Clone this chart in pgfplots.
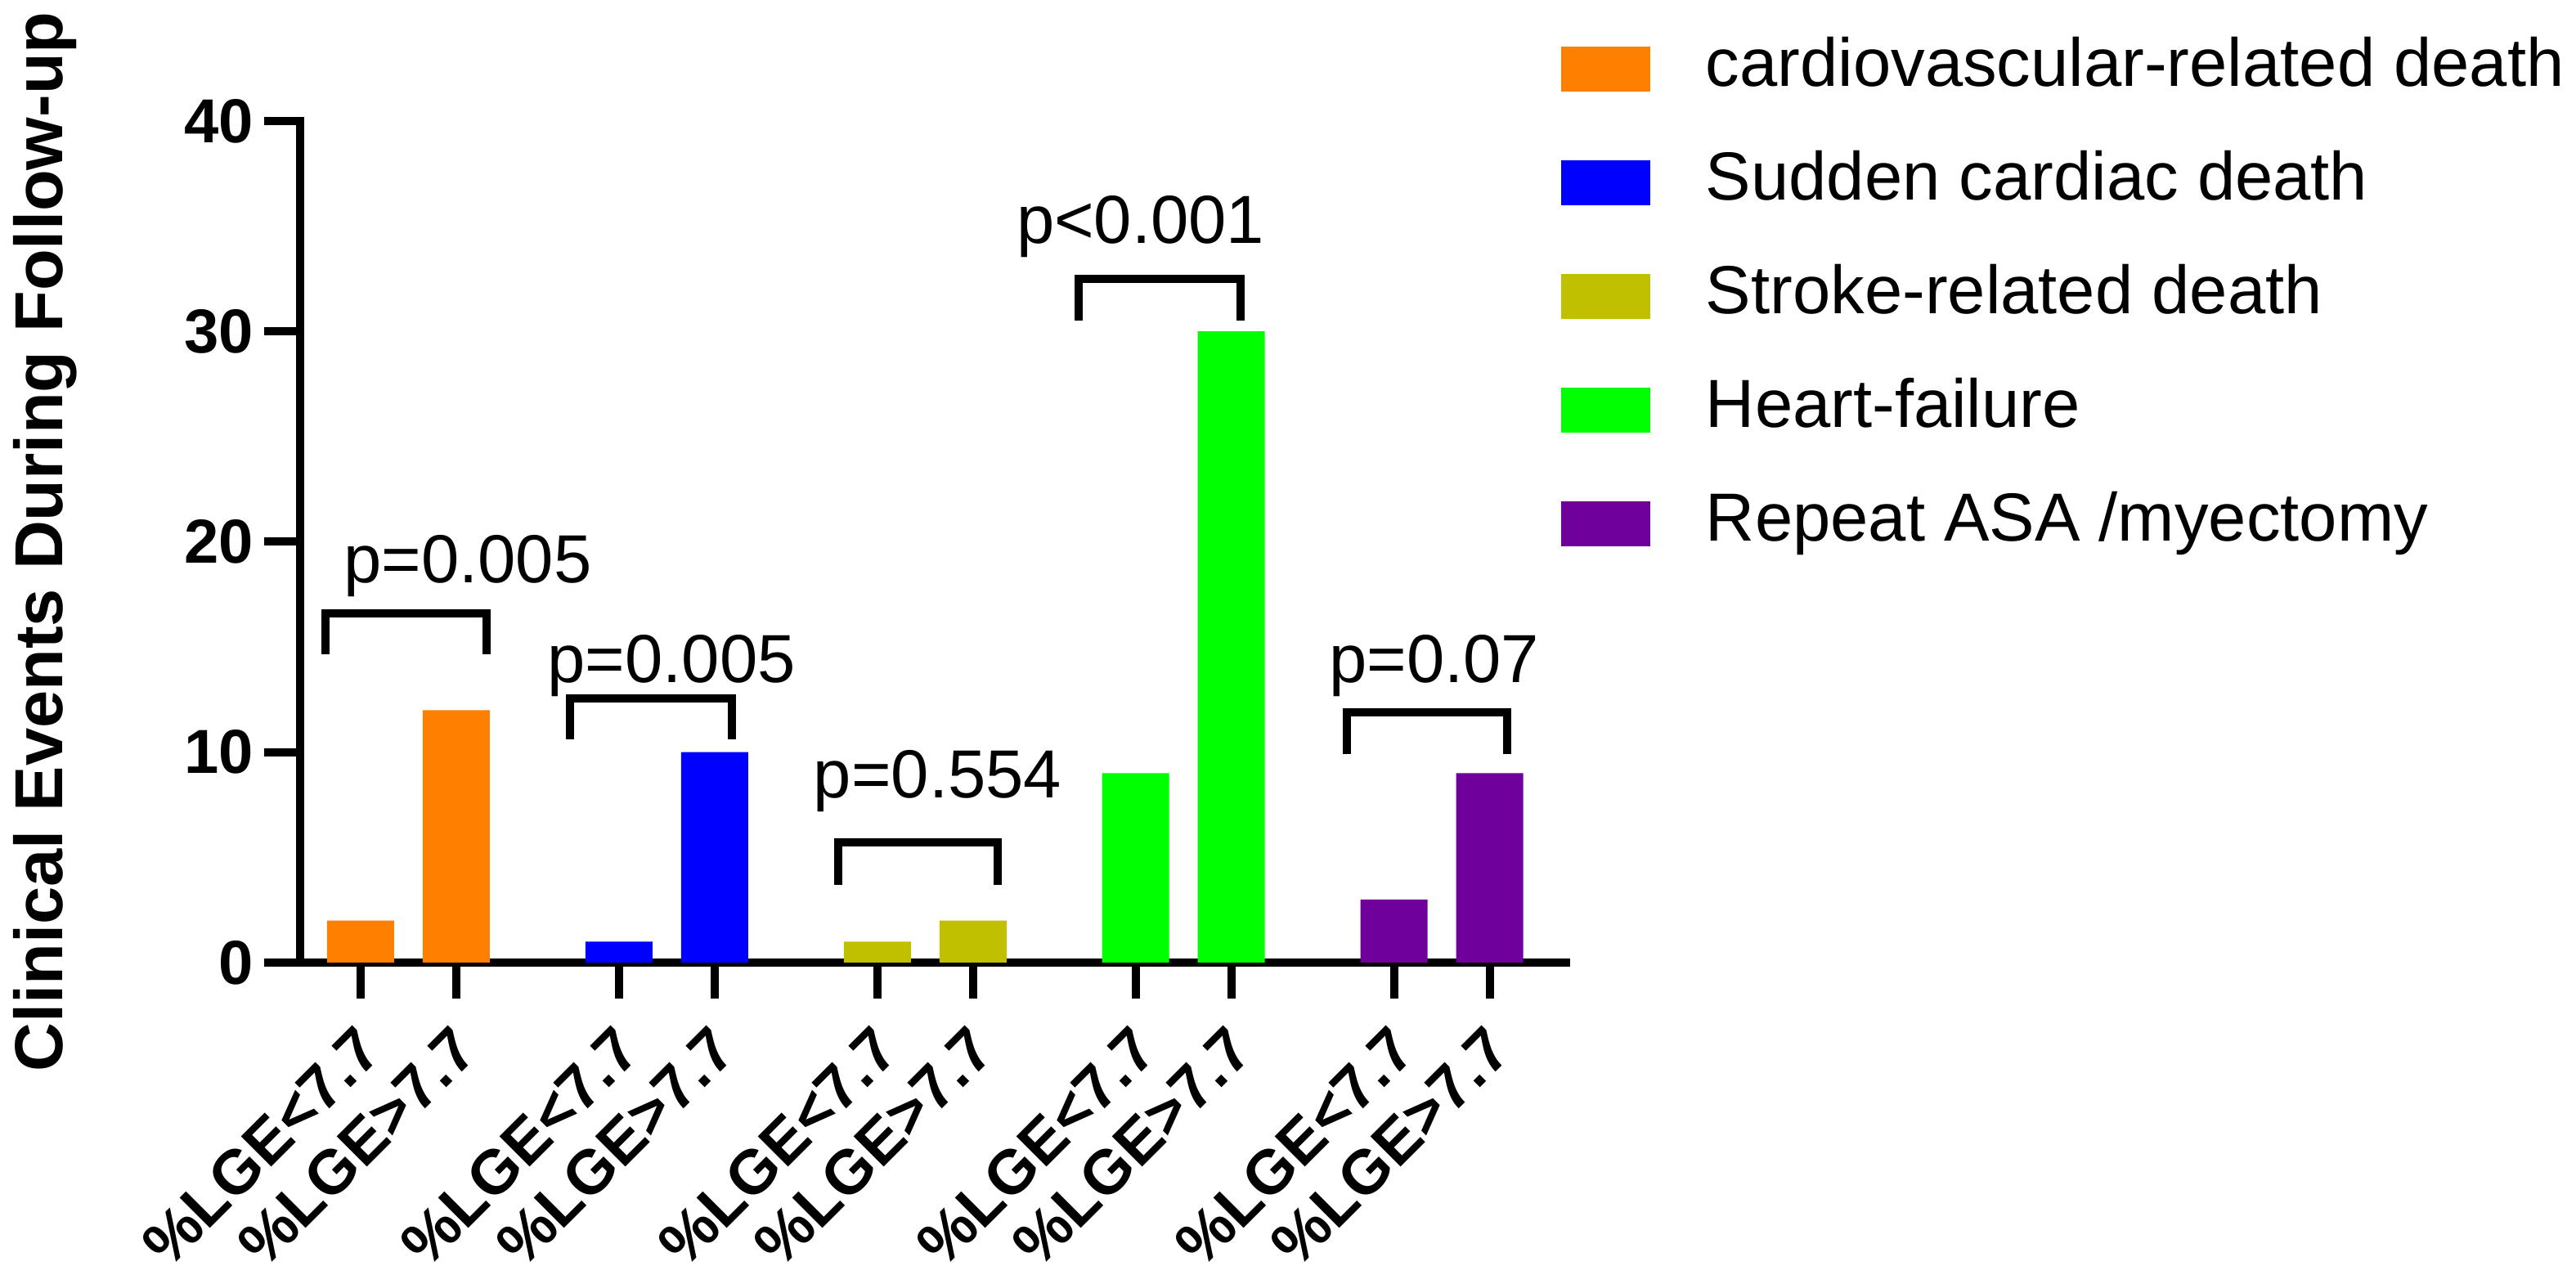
\documentclass[border=0pt]{standalone}
\usepackage{fontspec}
\setmainfont{Liberation Sans}
\usepackage{pgfplots}
\pgfplotsset{compat=1.18}
\definecolor{cOrange}{RGB}{255,128,0}
\definecolor{cBlue}{RGB}{0,0,255}
\definecolor{cOlive}{RGB}{192,192,0}
\definecolor{cGreen}{RGB}{0,255,0}
\definecolor{cPurple}{RGB}{112,0,155}
\pgfplotsset{
  mybar/.style={ybar, bar width=20.5pt, bar shift=0pt, draw=none,
    legend image code/.code={\fill[##1] (0pt,-6.875pt) rectangle (27.25pt,6.875pt);}},
  bracket/.style={black, line width=2.5pt, line join=miter, line cap=butt, forget plot, mark=none}
}
\newcommand{\pfont}{\fontsize{20.8}{24}\selectfont}
\begin{document}
\begin{tikzpicture}
\begin{axis}[
  at={(0pt,0pt)}, anchor=south west,
  scale only axis,
  width=387pt, height=257.25pt,
  xmin=-0.632, xmax=12.598,
  ymin=0, ymax=40,
  axis x line*=bottom, axis y line*=left,
  axis line style={line width=2.5pt, line cap=rect},
  ytick={0,10,20,30,40},
  xtick={0,1,2.7,3.7,5.4,6.4,8.1,9.1,10.8,11.8},
  xticklabels={\%LGE<7.7,\%LGE>7.7,\%LGE<7.7,\%LGE>7.7,\%LGE<7.7,\%LGE>7.7,\%LGE<7.7,\%LGE>7.7,\%LGE<7.7,\%LGE>7.7},
  tick align=outside,
  major tick length=11pt,
  tick style={line width=2.5pt, black},
  /pgf/number format/assume math mode=true,
  yticklabel style={font=\bfseries\fontsize{19}{22}\selectfont, inner sep=0pt, anchor=east, xshift=-3pt},
  xticklabel style={font=\bfseries\fontsize{19}{22}\selectfont, inner sep=0pt, xshift=-2pt, yshift=-7.25pt, rotate=45, anchor=north east},
  every axis y label/.style={at={(axis description cs:-0.18734,0.5)}, anchor=base, rotate=90},
  ylabel={Clinical Events During Follow-up},
  ylabel style={font=\bfseries\fontsize{20.75}{24}\selectfont},
  legend style={at={(axis description cs:0.9961,1.10)}, anchor=north west, draw=none, fill=none,
    inner sep=0pt, outer sep=0pt, row sep=15.25pt, font=\pfont,
    nodes={inner sep=0pt, text height=15pt, text depth=4.5pt},
    /tikz/every odd column/.append style={column sep=17pt}},
  legend cell align=left,
  clip=false,
]
\addplot[mybar, fill=cOrange] coordinates {(0,2) (1,12)};
\addplot[mybar, fill=cBlue] coordinates {(2.7,1) (3.7,10)};
\addplot[mybar, fill=cOlive] coordinates {(5.4,1) (6.4,2)};
\addplot[mybar, fill=cGreen] coordinates {(8.1,9) (9.1,30)};
\addplot[mybar, fill=cPurple] coordinates {(10.8,3) (11.8,9)};
\legend{cardiovascular-related death, Sudden cardiac death, Stroke-related death, Heart-failure, Repeat ASA /myectomy}
\addplot[bracket] coordinates {(-0.368,14.65) (-0.368,16.6) (1.316,16.6) (1.316,14.65)};
\addplot[bracket] coordinates {(2.188,10.6) (2.188,12.55) (3.880,12.55) (3.880,10.6)};
\addplot[bracket] coordinates {(4.991,3.7) (4.991,5.7) (6.658,5.7) (6.658,3.7)};
\addplot[bracket] coordinates {(7.504,30.5) (7.504,32.5) (9.197,32.5) (9.197,30.5)};
\addplot[bracket] coordinates {(10.308,9.9) (10.308,11.9) (11.983,11.9) (11.983,9.9)};
\node[anchor=base, font=\pfont, inner sep=0pt] at (axis cs:1.12,18.05) {p=0.005};
\node[anchor=base, font=\pfont, inner sep=0pt] at (axis cs:3.25,13.33) {p=0.005};
\node[anchor=base, font=\pfont, inner sep=0pt] at (axis cs:6.03,7.85) {p=0.554};
\node[anchor=base, font=\pfont, inner sep=0pt] at (axis cs:8.15,34.2) {p<0.001};
\node[anchor=base, font=\pfont, inner sep=0pt] at (axis cs:11.22,13.3) {p=0.07};
\end{axis}
\pgfresetboundingbox
\path (-91.75pt,-95.5pt) rectangle (695.75pt,294.25pt);
\end{tikzpicture}
\end{document}
